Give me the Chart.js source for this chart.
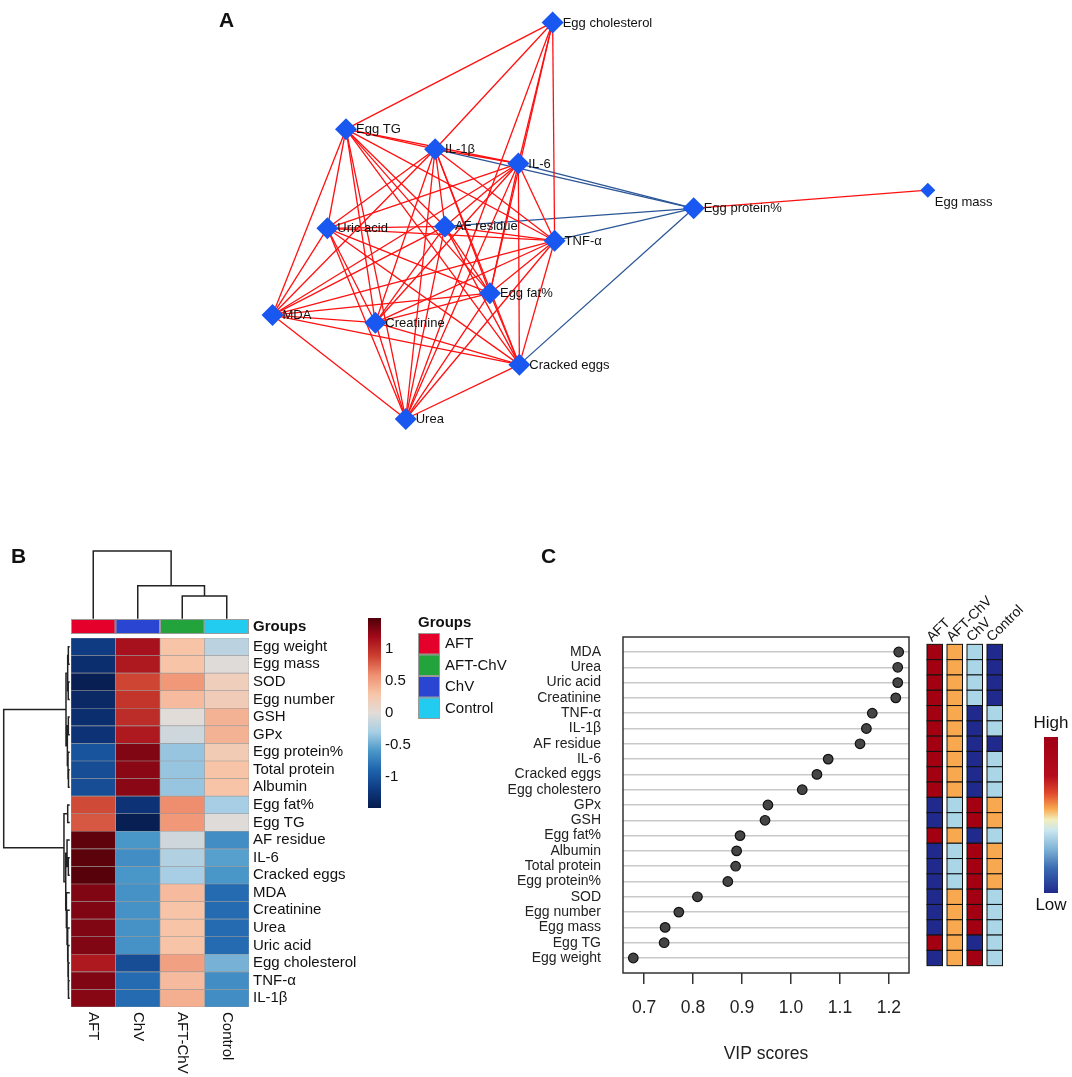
<!DOCTYPE html>
<html><head><meta charset="utf-8">
<script src="https://cdn.jsdelivr.net/npm/chart.js@4"></script>
<style>
html,body{margin:0;padding:0;background:#fff;}
#wrap{position:relative;width:1072px;height:1077px;overflow:hidden;background:#fff;}
canvas{position:absolute;}
.plab{position:absolute;font:bold 21px "Liberation Sans",Arial,sans-serif;color:#111;line-height:21px;}
</style></head><body>
<div id="wrap">
<canvas id="cA" width="1072" height="470" style="left:0;top:0"></canvas>
<canvas id="cB" width="530" height="547" style="left:0;top:530px"></canvas>
<canvas id="cC" width="572" height="547" style="left:500px;top:530px"></canvas>
<div class="plab" style="left:219px;top:9px">A</div>
<div class="plab" style="left:11px;top:545px">B</div>
<div class="plab" style="left:541px;top:545px">C</div>
</div>
<script>
// ================= DATA =================
// Panel A: correlation network (node layout coordinates + edges)
const netNodes = ["Egg cholesterol","Egg TG","IL-1β","IL-6","Uric acid","AF residue","TNF-α","Egg fat%","MDA","Creatinine","Cracked eggs","Urea","Egg protein%","Egg mass"];
const netX = [553,342,433,518,323,443,555,489,267,372,519,403,697,936];
const netY = [12,124,145,160,228,226,241,296,319,327,371,428,207,188];
const posEdges = {
  "Egg cholesterol": ["Egg TG","IL-1β","IL-6","Egg fat%","TNF-α","Urea"],
  "Egg TG": ["IL-1β","IL-6","Uric acid","AF residue","TNF-α","Egg fat%","MDA","Creatinine","Cracked eggs","Urea"],
  "IL-1β": ["IL-6","Uric acid","AF residue","TNF-α","Egg fat%","MDA","Creatinine","Cracked eggs","Urea"],
  "IL-6": ["Uric acid","AF residue","TNF-α","Egg fat%","MDA","Creatinine","Cracked eggs","Urea"],
  "Uric acid": ["AF residue","TNF-α","Egg fat%","MDA","Creatinine","Cracked eggs","Urea"],
  "AF residue": ["TNF-α","Egg fat%","MDA","Creatinine","Cracked eggs","Urea"],
  "TNF-α": ["Egg fat%","MDA","Creatinine","Cracked eggs","Urea"],
  "Egg fat%": ["MDA","Creatinine","Cracked eggs","Urea"],
  "MDA": ["Creatinine","Cracked eggs","Urea"],
  "Creatinine": ["Cracked eggs","Urea"],
  "Cracked eggs": ["Urea"],
  "Egg protein%": ["Egg mass"]
};
const negEdges = { "Egg protein%": ["IL-1β","IL-6","AF residue","TNF-α","Cracked eggs"] };

// Panel B: heatmap (z-scores)
const heatRows = ["Egg weight","Egg mass","SOD","Egg number","GSH","GPx","Egg protein%","Total protein","Albumin","Egg fat%","Egg TG","AF residue","IL-6","Cracked eggs","MDA","Creatinine","Urea","Uric acid","Egg cholesterol","TNF-α","IL-1β"];
const heatCols = ["AFT","ChV","AFT-ChV","Control"];
const heatAFT     = [-1.18,-1.3,-1.45,-1.35,-1.3,-1.25,-1.0,-1.05,-1.05,0.85,0.8,1.42,1.43,1.45,1.3,1.3,1.3,1.3,1.1,1.3,1.28];
const heatChV     = [1.15,1.1,0.87,0.95,1.0,1.1,1.3,1.27,1.27,-1.25,-1.45,-0.6,-0.65,-0.6,-0.62,-0.62,-0.62,-0.62,-1.05,-0.85,-0.85];
const heatAFTChV  = [0.3,0.3,0.55,0.35,0.0,-0.1,-0.35,-0.35,-0.35,0.6,0.55,-0.1,-0.25,-0.3,0.35,0.3,0.3,0.3,0.5,0.35,0.42];
const heatControl = [-0.2,-0.02,0.18,0.2,0.4,0.4,0.22,0.3,0.3,-0.3,-0.02,-0.65,-0.55,-0.6,-0.85,-0.85,-0.85,-0.85,-0.45,-0.65,-0.65];
const colTree = [1.0, 0, [0.48, 1, [0.33, 2, 3]]];
const rowTree = [1.0,
  [0.046, [0.02, [0.01,0,1], [0.012,2,3]], [0.025, [0.01,4,5], [0.015,6,[0.008,7,8]]]],
  [0.077, [0.02,9,10], [0.05, [0.03,11,[0.01,12,13]], [0.04,14,[0.03,15,[0.02,16,[0.015,17,[0.01,18,[0.008,19,20]]]]]]]]];
const colorbarTicks = [1, 0.5, 0, -0.5, -1];
const legendGroups = ["AFT","AFT-ChV","ChV","Control"];

// Panel C: VIP scores + relative level strip (1 = Low ... 4 = High)
const vipLabels = ["MDA","Urea","Uric acid","Creatinine","TNF-α","IL-1β","AF residue","IL-6","Cracked eggs","Egg cholestero","GPx","GSH","Egg fat%","Albumin","Total protein","Egg protein%","SOD","Egg number","Egg mass","Egg TG","Egg weight"];
const vipScores = [1.220,1.218,1.218,1.214,1.166,1.154,1.141,1.076,1.053,1.023,0.953,0.947,0.896,0.889,0.887,0.871,0.809,0.771,0.743,0.741,0.678];
const vipTicks = [0.7,0.8,0.9,1.0,1.1,1.2];
const stripGroups = ["AFT","AFT-ChV","ChV","Control"];
const stripAFT     = [4,4,4,4,4,4,4,4,4,4,1,1,4,1,1,1,1,1,1,4,1];
const stripAFTChV  = [3,3,3,3,3,3,3,3,3,3,2,2,3,2,2,2,3,3,3,3,3];
const stripChV     = [2,2,2,2,1,1,1,1,1,1,4,4,1,4,4,4,4,4,4,1,4];
const stripControl = [1,1,1,1,2,2,1,2,2,2,3,3,2,3,3,3,2,2,2,2,2];

// ================= STYLE / HELPERS =================
const FONT = '"Liberation Sans", Arial, Helvetica, sans-serif';
Chart.defaults.font.family = FONT;
const groupColor = {"AFT":"#e4002b","ChV":"#2a45d1","AFT-ChV":"#22a33b","Control":"#22ccf0"};
const heatPal = ['#061c4e','#0f3a82','#1e64ad','#4a97c9','#a8cfe4','#e2dcd8','#f7c5a8','#ef9070','#cc4030','#a20a1a','#4e0008'];
const heatMax = 1.48;
function hex2rgb(h){return [parseInt(h.substr(1,2),16),parseInt(h.substr(3,2),16),parseInt(h.substr(5,2),16)];}
function heatColor(v){
  let t=(v+heatMax)/(2*heatMax); t=Math.max(0,Math.min(1,t));
  const f=t*(heatPal.length-1), i=Math.min(heatPal.length-2,Math.floor(f)), u=f-i;
  const a=hex2rgb(heatPal[i]), b=hex2rgb(heatPal[i+1]);
  return 'rgb('+a.map((c,k)=>Math.round(c+(b[k]-c)*u)).join(',')+')';
}
const levelColor = {1:'#1f2a8c',2:'#aad6e8',3:'#f8a84f',4:'#a30012'};
const baseOpts = {responsive:false, animation:false, events:[], plugins:{legend:{display:false}, tooltip:{enabled:false}}};

// ================= PANEL A =================
const degree = netNodes.map(()=>0);
function edgeSets(adj, color){
  const out=[];
  for (const a in adj) for (const b of adj[a]) {
    const i=netNodes.indexOf(a), j=netNodes.indexOf(b);
    degree[i]++; degree[j]++;
    out.push({data:[{x:netX[i],y:netY[i]},{x:netX[j],y:netY[j]}], showLine:true, borderColor:color, borderWidth:1.3, pointRadius:0, fill:false, order:1});
  }
  return out;
}
const edgeDs = edgeSets(posEdges,'#ff1010').concat(edgeSets(negEdges,'#2a5596'));
const nodeDs = {data: netNodes.map((n,i)=>({x:netX[i],y:netY[i]})), pointStyle:'rectRot',
  pointRadius: netNodes.map((n,i)=> degree[i] <= 1 ? 7.5 : 11), backgroundColor:'#1857f0', borderWidth:0, order:0};
const netLabelPlugin = {id:'netLabels', afterDatasetsDraw(chart){
  const {ctx, scales:{x,y}} = chart;
  ctx.save(); ctx.font='13px '+FONT; ctx.fillStyle='#111'; ctx.textBaseline='middle'; ctx.textAlign='left';
  netNodes.forEach((n,i)=>{
    const px=x.getPixelForValue(netX[i]), py=y.getPixelForValue(netY[i]);
    if (degree[i] <= 1) ctx.fillText(n, px+7, py+12); else ctx.fillText(n, px+10, py+0.5);
  });
  ctx.restore();
}};
new Chart(document.getElementById('cA'), {type:'scatter', data:{datasets:[nodeDs].concat(edgeDs)},
  options:Object.assign({}, baseOpts, {layout:{padding:0},
    scales:{x:{type:'linear',display:false,min:0,max:1072}, y:{type:'linear',display:false,min:0,max:470,reverse:true}}}),
  plugins:[netLabelPlugin]});

// ================= PANEL B =================
const heatByCol = [heatAFT, heatChV, heatAFTChV, heatControl];
function dendroSegs(node, leafPos, segs){
  if (typeof node === 'number') return {p:leafPos(node), h:0};
  const [h,a,b] = node;
  const A=dendroSegs(a,leafPos,segs), B=dendroSegs(b,leafPos,segs);
  segs.push([A.p,A.h,A.p,h],[B.p,B.h,B.p,h],[A.p,h,B.p,h]);
  return {p:(A.p+B.p)/2, h:h};
}
const heatPlugin = {id:'heatExtras', afterDraw(chart){
  const {ctx, chartArea:ca, scales:{x,y}} = chart;
  ctx.save();
  // annotation bar
  const bt=ca.top-19, bb=ca.top-4;
  heatCols.forEach((c,ci)=>{
    const l=x.getPixelForValue(ci), r=x.getPixelForValue(ci+1);
    ctx.fillStyle=groupColor[c]; ctx.fillRect(l,bt,r-l,bb-bt);
    ctx.strokeStyle='#9a9a9a'; ctx.lineWidth=1; ctx.strokeRect(l+0.5,bt+0.5,r-l-1,bb-bt-1);
  });
  ctx.fillStyle='#111'; ctx.font='bold 15px '+FONT; ctx.textBaseline='middle'; ctx.textAlign='left';
  ctx.fillText('Groups', ca.right+4, (bt+bb)/2+0.5);
  // column dendrogram
  ctx.strokeStyle='#222'; ctx.lineWidth=1.5; ctx.lineCap='square';
  let segs=[]; dendroSegs(colTree, i=>x.getPixelForValue(i+0.5), segs);
  const base=bt-1, hs=67;
  ctx.beginPath();
  segs.forEach(s=>{ctx.moveTo(s[0],base-s[1]*hs); ctx.lineTo(s[2],base-s[3]*hs);});
  ctx.stroke();
  // row dendrogram
  segs=[]; dendroSegs(rowTree, i=>y.getPixelForValue(i), segs);
  const xr=ca.left-2, ws=65.3;
  ctx.beginPath();
  segs.forEach(s=>{ctx.moveTo(xr-s[1]*ws,s[0]); ctx.lineTo(xr-s[3]*ws,s[2]);});
  ctx.stroke();
  // column labels (rotated)
  ctx.font='15px '+FONT; ctx.fillStyle='#111';
  heatCols.forEach((c,ci)=>{
    ctx.save(); ctx.translate(x.getPixelForValue(ci+0.5), ca.bottom+5); ctx.rotate(Math.PI/2);
    ctx.textAlign='left'; ctx.textBaseline='middle'; ctx.fillText(c,0,0); ctx.restore();
  });
  // colour key
  const kx=368, kw=13, kt=88, kb=278;
  const g=ctx.createLinearGradient(0,kt,0,kb);
  heatPal.slice().reverse().forEach((c,i,arr)=>g.addColorStop(i/(arr.length-1),c));
  ctx.fillStyle=g; ctx.fillRect(kx,kt,kw,kb-kt);
  ctx.fillStyle='#111'; ctx.textAlign='left'; ctx.textBaseline='middle';
  colorbarTicks.forEach(v=>ctx.fillText(String(v), kx+17, kt+(heatMax-v)/(2*heatMax)*(kb-kt)));
  // groups legend
  ctx.font='bold 15px '+FONT; ctx.fillText('Groups', 418, 93);
  ctx.font='15px '+FONT;
  legendGroups.forEach((gname,i)=>{
    const ty=103+i*21.5;
    ctx.fillStyle=groupColor[gname]; ctx.fillRect(418,ty,22,21.5);
    ctx.strokeStyle='#9a9a9a'; ctx.lineWidth=1; ctx.strokeRect(418.5,ty+0.5,21,20.5);
    ctx.fillStyle='#111'; ctx.fillText(gname, 445, ty+11);
  });
  ctx.restore();
}};
new Chart(document.getElementById('cB'), {type:'bar',
  data:{labels:heatRows, datasets: heatCols.map((c,ci)=>({label:c, data: heatRows.map(()=>[ci,ci+1]),
    backgroundColor: heatByCol[ci].map(heatColor), borderColor:'#9c9c9c', borderWidth:0.6, borderSkipped:false,
    barPercentage:1, categoryPercentage:1, grouped:false}))},
  options:Object.assign({}, baseOpts, {indexAxis:'y', layout:{padding:{left:71,top:108,bottom:70,right:0}},
    scales:{
      x:{type:'linear',min:0,max:4,display:false},
      y:{type:'category', position:'right', grid:{display:false, drawTicks:false}, border:{display:false},
         ticks:{padding:4, color:'#111', font:{size:15}, autoSkip:false},
         afterFit(s){ s.width=281; }}
    }}),
  plugins:[heatPlugin]});

// ================= PANEL C =================
const stripVals = [stripAFT, stripAFTChV, stripChV, stripControl];
const vipPlugin = {id:'vipExtras', afterDraw(chart){
  const {ctx, chartArea:ca, scales:{y}} = chart;
  ctx.save();
  ctx.strokeStyle='#333'; ctx.lineWidth=1.5; ctx.strokeRect(ca.left, ca.top, ca.right-ca.left, ca.bottom-ca.top);
  const step=Math.abs(y.getPixelForValue(1)-y.getPixelForValue(0));
  const top0=y.getPixelForValue(0)-step/2;
  stripGroups.forEach((gname,gi)=>{
    const left=427+gi*20, w=15.5;
    stripVals[gi].forEach((lv,i)=>{
      const cy=y.getPixelForValue(i);
      ctx.fillStyle=levelColor[lv]; ctx.fillRect(left, cy-step/2, w, step);
      ctx.strokeStyle='#111'; ctx.lineWidth=1; ctx.strokeRect(left, cy-step/2, w, step);
    });
    ctx.save(); ctx.translate(left+5, top0-2); ctx.rotate(-Math.PI/4);
    ctx.font='14px '+FONT; ctx.fillStyle='#111'; ctx.textAlign='left'; ctx.textBaseline='alphabetic';
    ctx.fillText(gname,0,0); ctx.restore();
  });
  // High/Low key
  const kx=544, kw=14, kt=207, kb=363;
  const g=ctx.createLinearGradient(0,kt,0,kb);
  [['#a00015',0],['#b50d1e',0.25],['#e0482c',0.36],['#f8a84f',0.46],['#f2eebc',0.53],['#c9e6f0',0.6],['#7fb2d6',0.72],['#3b6cb2',0.84],['#1f2a8c',1]]
    .forEach(s=>g.addColorStop(s[1],s[0]));
  ctx.fillStyle=g; ctx.fillRect(kx,kt,kw,kb-kt);
  ctx.fillStyle='#111'; ctx.font='17px '+FONT; ctx.textAlign='center'; ctx.textBaseline='middle';
  ctx.fillText('High', kx+kw/2, kt-14); ctx.fillText('Low', kx+kw/2, kb+12);
  ctx.restore();
}};
new Chart(document.getElementById('cC'), {type:'scatter',
  data:{datasets:[{data: vipScores.map((v,i)=>({x:v,y:i})), pointRadius:4.8, backgroundColor:'#454545', borderColor:'#111', borderWidth:1.2}]},
  options:Object.assign({}, baseOpts, {layout:{padding:{left:0,top:107,right:163,bottom:0}},
    scales:{
      x:{type:'linear', min:0.657, max:1.241, position:'bottom',
        afterBuildTicks(s){ s.ticks = vipTicks.map(v=>({value:v})); },
        ticks:{callback:v=>Number(v).toFixed(1), font:{size:17.5}, color:'#222', padding:14},
        grid:{drawOnChartArea:false, drawTicks:true, tickLength:11, color:'#333', lineWidth:1.5},
        border:{display:false},
        title:{display:true, text:'VIP scores', font:{size:17.5}, color:'#222', padding:{top:20,bottom:12.5}},
        afterFit(s){ s.height=104; }},
      y:{type:'linear', reverse:true, min:-0.98, max:20.98,
        afterBuildTicks(s){ s.ticks = vipLabels.map((_,i)=>({value:i})); },
        ticks:{callback:v=>vipLabels[Math.round(v)], font:{size:14}, color:'#222', padding:22, autoSkip:false},
        grid:{color:'#c9c9c9', lineWidth:1.5, drawTicks:false},
        border:{display:false},
        afterFit(s){ s.width=123; }}
    }}),
  plugins:[vipPlugin]});
</script>
</body></html>
